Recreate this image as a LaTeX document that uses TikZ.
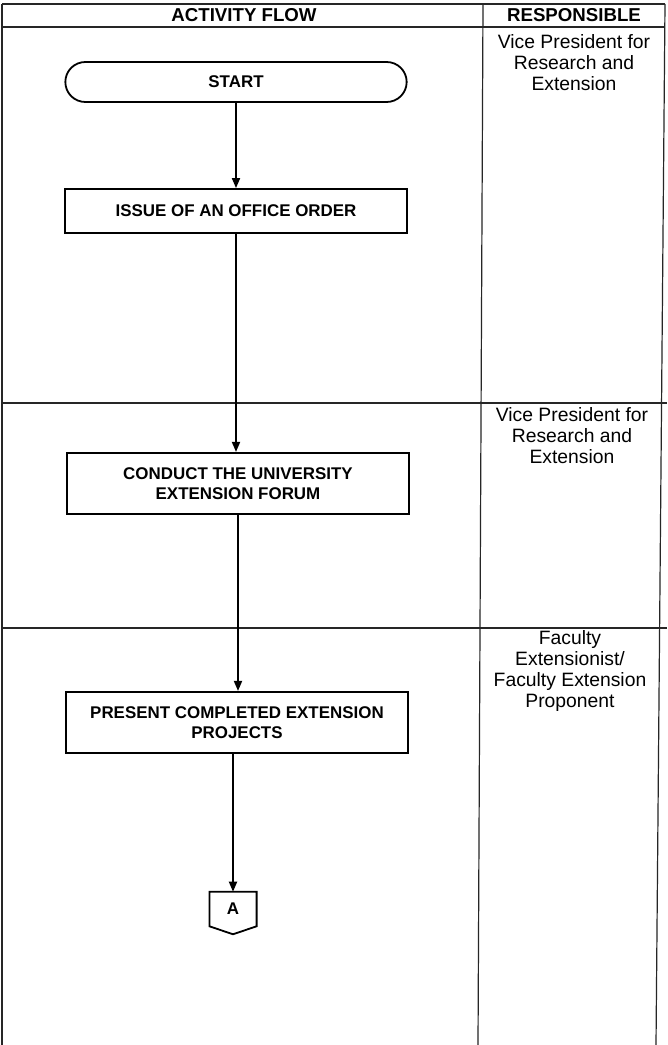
\documentclass[tikz,border=0pt]{standalone}
\usepackage{fontspec}
\setmainfont{Liberation Sans}
\usetikzlibrary{arrows.meta,calc}
\begin{document}
\begin{tikzpicture}[x=0.75pt,y=-0.75pt,
  tline/.style={line width=0.9pt,black!85},
  procbox/.style={draw,line width=1.35pt,minimum width=256pt,inner sep=2pt,align=center,font=\bfseries\fontsize{12.7}{15.5}\selectfont},
  headtxt/.style={font=\bfseries\fontsize{14}{16}\selectfont},
  resptxt/.style={anchor=north,inner sep=0pt,align=center,font=\fontsize{14.5}{15.75}\selectfont},
  flowarrow/.style={line width=1.3pt,-{Triangle[length=7.5pt,width=6pt]}}]
\useasboundingbox (0,0) rectangle (667,1045);
\fill[white] (0,0) rectangle (667,1045);
% table
\coordinate (tl) at (2,4);
\coordinate (bl) at (2,1045);
\coordinate (dt) at (483,4);
\coordinate (db) at (478,1045);
\coordinate (rt) at (665,4);
\coordinate (rb) at (656,1045);
\draw[tline] (tl) -- (bl);
\draw[tline] (dt) -- (db);
\draw[tline] (rt) -- (rb);
\draw[tline] (tl) -- (rt);
\draw[tline] (2,27) -- (665,27);
\draw[tline] (2,403) -- (667,403);
\draw[tline] (2,628) -- (667,628);
% headers
\node[headtxt] (h1) at (244,15) {ACTIVITY FLOW};
\node[headtxt] (h2) at (574,15) {RESPONSIBLE};
% responsible
\node[resptxt] (r1) at (574,34) {Vice President for\\Research and\\Extension};
\node[resptxt] (r2) at (572,407) {Vice President for\\Research and\\Extension};
\node[resptxt] (r3) at (570,630) {Faculty\\Extensionist/\\Faculty Extension\\Proponent};
% flow
\node[procbox,rounded corners=15pt,minimum height=30pt] (start) at (236,82) {START};
\node[procbox,minimum height=33pt] (issue) at (236,211) {ISSUE OF AN OFFICE ORDER};
\node[procbox,minimum height=46pt] (conduct) at (238,483.5) {CONDUCT THE UNIVERSITY\\EXTENSION FORUM};
\node[procbox,minimum height=46pt] (present) at (237,722.5) {PRESENT COMPLETED EXTENSION\\PROJECTS};
\node[inner sep=0pt,minimum width=35pt,minimum height=25.5pt,font=\bfseries\fontsize{12.7}{15}\selectfont] (A) at (233,909) {A};
\draw[line width=1.35pt] (A.north west) -- (A.north east) -- (A.south east) -- ($(A.south)+(0,8)$) -- (A.south west) -- cycle;
\draw[flowarrow] (start.south) -- (start.south |- issue.north);
\draw[flowarrow] (issue.south) -- (issue.south |- conduct.north);
\draw[flowarrow] (conduct.south) -- (conduct.south |- present.north);
\draw[flowarrow] (A.north |- present.south) -- (A.north);
\end{tikzpicture}
\end{document}
